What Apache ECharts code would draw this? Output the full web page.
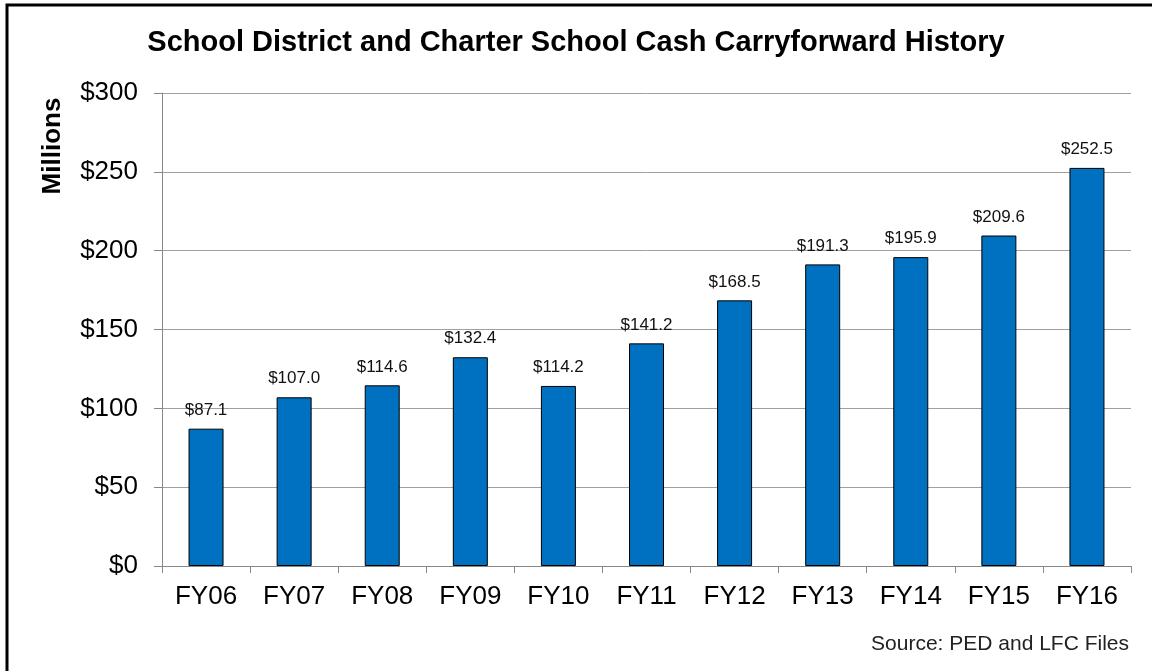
<!DOCTYPE html>
<html>
<head>
<meta charset="utf-8">
<title>Cash Carryforward History</title>
<script src="https://cdn.jsdelivr.net/npm/echarts@6/dist/echarts.min.js"></script>
<style>
  html, body { margin: 0; padding: 0; background: #fff; }
  #chart { width: 1152px; height: 671px; }
</style>
</head>
<body>
<div id="chart"></div>
<script>
// fiscal years and cash carryforward, $ millions
var years = ['FY06', 'FY07', 'FY08', 'FY09', 'FY10', 'FY11', 'FY12', 'FY13', 'FY14', 'FY15', 'FY16'];
var carryforward = [87.1, 107.0, 114.6, 132.4, 114.2, 141.2, 168.5, 191.3, 195.9, 209.6, 252.5];
var yTicks = [0, 50, 100, 150, 200, 250, 300];

var myChart = echarts.init(document.getElementById('chart'));
var font = '"Liberation Sans", Arial, sans-serif';

myChart.setOption({
    animation: false,
    title: {
        text: 'School District and Charter School Cash Carryforward History',
        left: 'center',
        top: 28,
        padding: 0,
        textStyle: { fontFamily: font, fontSize: 29, fontWeight: 'bold', color: '#000' }
    },
    grid: {
        left: 162,
        right: 21,
        top: 93,
        bottom: 105
    },
    xAxis: {
        type: 'category',
        data: years,
        axisLine: { lineStyle: { color: '#888', width: 1 } },
        axisTick: { show: true, length: 7, alignWithLabel: false, lineStyle: { color: '#888' } },
        axisLabel: { margin: 18, fontFamily: font, fontSize: 26, color: '#000' }
    },
    yAxis: {
        type: 'value',
        min: yTicks[0],
        max: yTicks[yTicks.length - 1],
        interval: 50,
        axisLine: { show: true, lineStyle: { color: '#888', width: 1 } },
        axisTick: { show: true, length: 8, inside: false, lineStyle: { color: '#888' } },
        splitLine: { lineStyle: { color: '#a0a0a0', width: 1 } },
        axisLabel: {
            margin: 24,
            fontFamily: font,
            fontSize: 26,
            color: '#000',
            formatter: function (v) { return '$' + v; }
        }
    },
    series: [
        {
            type: 'bar',
            data: carryforward,
            barWidth: 35,
            itemStyle: { color: '#0070C0', borderColor: '#000', borderWidth: 1 },
            label: {
                show: true,
                position: 'top',
                distance: 10,
                fontFamily: font,
                fontSize: 17,
                color: '#111',
                formatter: function (p) { return '$' + p.value.toFixed(1); }
            }
        }
    ],
    graphic: [
        {
            type: 'rect',
            shape: { x: 7, y: 5, width: 1200, height: 720 },
            style: { fill: 'none', stroke: '#000', lineWidth: 3 },
            silent: true
        },
        {
            type: 'text',
            x: 53,
            y: 146,
            rotation: Math.PI / 2,
            style: {
                text: 'Millions',
                font: 'bold 26px ' + font,
                fill: '#000',
                textAlign: 'center',
                textVerticalAlign: 'middle'
            }
        },
        {
            type: 'text',
            x: 1129,
            y: 644,
            style: {
                text: 'Source: PED and LFC Files',
                font: '21px ' + font,
                fill: '#222',
                textAlign: 'right',
                textVerticalAlign: 'middle'
            }
        }
    ]
});
</script>
</body>
</html>
